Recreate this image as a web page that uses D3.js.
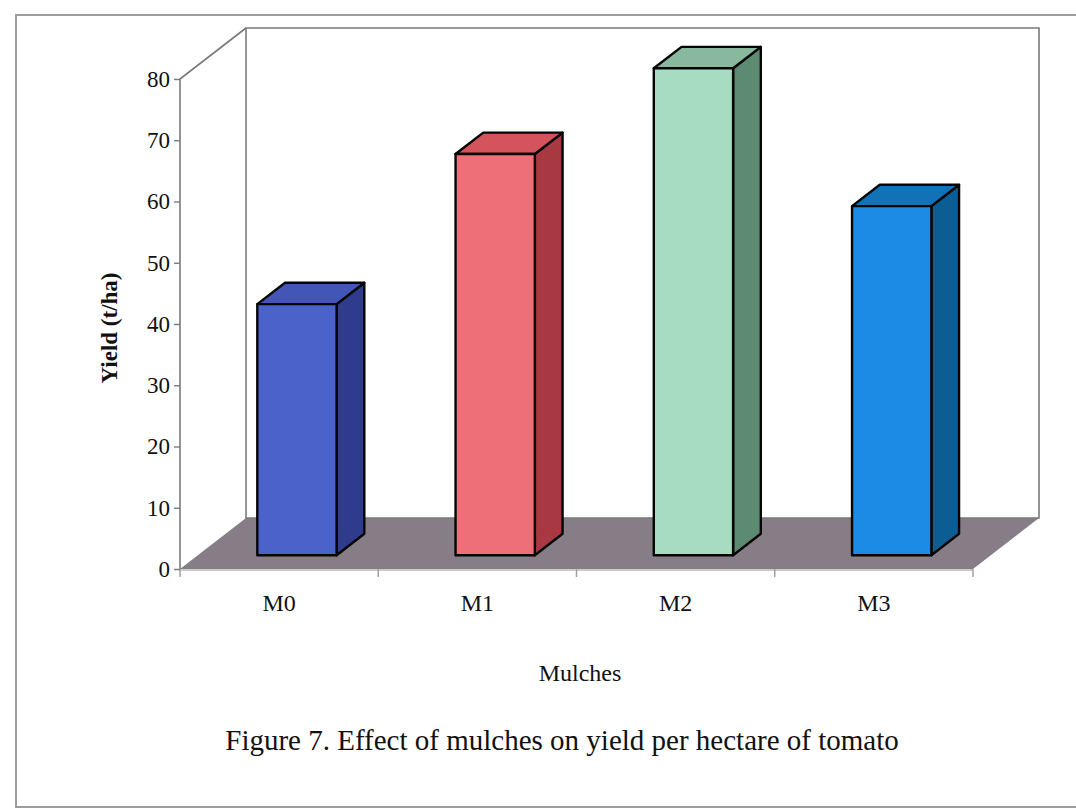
<!DOCTYPE html>
<html>
<head>
<meta charset="utf-8">
<script src="https://cdn.jsdelivr.net/npm/d3@7"></script>
<style>
  html, body { margin: 0; padding: 0; background: #ffffff; }
  svg { display: block; }
  text { font-family: "Liberation Serif", "Times New Roman", serif; fill: #111; }
</style>
</head>
<body>
<svg id="chart" width="1076" height="810"></svg>
<script>
// Yield of tomato (t/ha) under each mulch treatment
const categories = ["M0", "M1", "M2", "M3"];
const yieldValues = [41, 65.5, 79.5, 57];
const yTicks = [0, 10, 20, 30, 40, 50, 60, 70, 80];
const faceColors = ["#4a62c9", "#ef6f79", "#a8dcc2", "#1b8be6"];
const sideColors = ["#2f3b8c", "#a83842", "#5c8b72", "#0c5d94"];
const topColors  = ["#4356b8", "#d4535d", "#88b89e", "#1172b8"];

const svg = d3.select("#chart");

// front plane of the 3-D box, and the depth vector pointing to the back wall
const front = { left: 180, right: 973, bottom: 569, top: 79 };
const DX = 66, DY = -51;

const x = d3.scaleBand().domain(categories).range([front.left, front.right]);
const y = d3.scaleLinear().domain([0, 80]).range([front.bottom, front.top]);

// project a point (plot x, value, depth 0..1) to the screen
const P = (px, v, d) => [px + DX * d, y(v) + DY * d];
const poly = pts => "M" + pts.map(p => p.join(",")).join("L") + "Z";

// outer frame
svg.append("rect")
  .attr("x", 16).attr("y", 15).attr("width", 1080).attr("height", 792)
  .attr("fill", "none").attr("stroke", "#9c9c9c").attr("stroke-width", 2);

const wallStroke = "#7a7a7a";

// floor
svg.append("path")
  .attr("d", poly([P(front.left, 0, 0), P(front.right, 0, 0), P(front.right, 0, 1), P(front.left, 0, 1)]))
  .attr("fill", "#877d87");

// back wall and left side wall outlines
svg.append("path")
  .attr("d", poly([P(front.left, 0, 1), P(front.left, 80, 1), P(front.right, 80, 1), P(front.right, 0, 1)]))
  .attr("fill", "none").attr("stroke", wallStroke).attr("stroke-width", 1.6);
svg.append("path")
  .attr("d", "M" + [P(front.left, 0, 0), P(front.left, 80, 0), P(front.left, 80, 1)].map(p => p.join(",")).join("L"))
  .attr("fill", "none").attr("stroke", wallStroke).attr("stroke-width", 1.6);

// category axis along the front edge of the floor
const xAxisLine = svg.append("g");
xAxisLine.append("line")
  .attr("x1", front.left).attr("x2", front.right)
  .attr("y1", front.bottom + 1).attr("y2", front.bottom + 1)
  .attr("stroke", "#b8b8b8").attr("stroke-width", 1.5);
xAxisLine.selectAll("line.tick")
  .data(categories.concat([null]))
  .join("line")
  .attr("class", "tick")
  .attr("x1", (c, i) => c === null ? front.right : x(c))
  .attr("x2", (c, i) => c === null ? front.right : x(c))
  .attr("y1", front.bottom).attr("y2", front.bottom + 8)
  .attr("stroke", "#a0a0a0").attr("stroke-width", 1.5);

svg.append("g")
  .selectAll("text")
  .data(categories)
  .join("text")
  .attr("x", c => x(c) + x.bandwidth() / 2)
  .attr("y", 611)
  .attr("text-anchor", "middle")
  .attr("font-size", 24)
  .text(c => c);

// value axis on the front-left edge
const yAxis = d3.axisLeft(y).tickValues(yTicks).tickSize(6).tickPadding(4).tickFormat(d3.format("d"));
const gy = svg.append("g").attr("transform", `translate(${front.left},0)`).call(yAxis);
gy.select(".domain").remove();
gy.selectAll(".tick line").attr("stroke", "#7a7a7a").attr("stroke-width", 1.4);
gy.selectAll(".tick text")
  .attr("font-family", "Liberation Serif, Times New Roman, serif")
  .attr("font-size", 23).attr("fill", "#111");

// columns: front face, right side and top, sitting midway in depth
const d0 = 0.27, d1 = 0.69;
const barW = x.bandwidth() * 0.4;
const bars = svg.append("g").selectAll("g")
  .data(categories.map((c, i) => ({ c, v: yieldValues[i], i })))
  .join("g");

const edges = d => {
  const cx = x(d.c) + x.bandwidth() / 2;
  return { xl: cx - barW / 2, xr: cx + barW / 2 };
};

bars.append("path")
  .attr("d", d => { const e = edges(d); return poly([P(e.xr, 0, d0), P(e.xr, d.v, d0), P(e.xr, d.v, d1), P(e.xr, 0, d1)]); })
  .attr("fill", d => sideColors[d.i]).attr("stroke", "#050505").attr("stroke-width", 2.4).attr("stroke-linejoin", "round");
bars.append("path")
  .attr("d", d => { const e = edges(d); return poly([P(e.xl, d.v, d0), P(e.xr, d.v, d0), P(e.xr, d.v, d1), P(e.xl, d.v, d1)]); })
  .attr("fill", d => topColors[d.i]).attr("stroke", "#050505").attr("stroke-width", 2.4).attr("stroke-linejoin", "round");
bars.append("path")
  .attr("d", d => { const e = edges(d); return poly([P(e.xl, 0, d0), P(e.xr, 0, d0), P(e.xr, d.v, d0), P(e.xl, d.v, d0)]); })
  .attr("fill", d => faceColors[d.i]).attr("stroke", "#050505").attr("stroke-width", 2.4).attr("stroke-linejoin", "round");

// axis titles and caption
svg.append("text")
  .attr("transform", "translate(117,328) rotate(-90)")
  .attr("text-anchor", "middle")
  .attr("font-size", 23).attr("font-weight", "bold")
  .text("Yield (t/ha)");

svg.append("text")
  .attr("x", 580).attr("y", 681)
  .attr("text-anchor", "middle")
  .attr("font-size", 24)
  .text("Mulches");

svg.append("text")
  .attr("x", 562).attr("y", 750)
  .attr("text-anchor", "middle")
  .attr("font-size", 29)
  .text("Figure 7. Effect of mulches on yield per hectare of tomato");
</script>
</body>
</html>
